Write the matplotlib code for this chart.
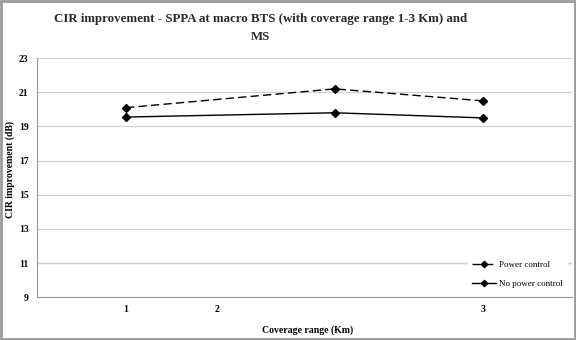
import matplotlib
matplotlib.use("Agg")
import matplotlib.pyplot as plt
from matplotlib.patches import Rectangle

plt.rcParams['font.family'] = ['Liberation Serif', 'DejaVu Serif']

# coverage positions as they sit on the chart
x_vals = [1, 2.17, 3]
tick_pos = [1, 1.51, 3]
tick_labels = ["1", "2", "3"]
power_control = [20.1, 21.2, 20.5]
no_power_control = [19.55, 19.8, 19.5]

fig = plt.figure(figsize=(5.76, 3.4), dpi=100)
ax = fig.add_axes([0.064, 0.126, 0.929, 0.703])

ax.plot(x_vals, power_control, color='black', lw=1.0, ls=(0, (6, 3)),
        marker='D', ms=4, label='Power control')
ax.plot(x_vals, no_power_control, color='black', lw=1.0,
        marker='D', ms=4, label='No power control')

ax.set_xlim(0.5, 3.5)
ax.set_ylim(9, 23)
ax.set_yticks(range(9, 24, 2))
ax.set_xticks(tick_pos)
ax.set_xticklabels(tick_labels)
ax.tick_params(length=0, labelsize=7, pad=6)
for lab in ax.get_xticklabels() + ax.get_yticklabels():
    lab.set_fontweight('bold')

ax.grid(axis='y', color='#d0d0d0', lw=0.8)
ax.set_axisbelow(True)
for s in ['top', 'right']:
    ax.spines[s].set_visible(False)
ax.spines['left'].set_color('#999999')
ax.spines['bottom'].set_color('#999999')
ax.axhline(11, color='#8a9a90', lw=0.9, zorder=0.5)

ax.set_xlabel('Coverage range (Km)', fontsize=7, fontweight='bold')
ax.xaxis.set_label_coords(0.505, -0.12)
ax.set_ylabel('CIR improvement (dB)', fontsize=7, fontweight='bold')
ax.yaxis.set_label_coords(-0.04, 0.535)

fig.text(0.452, 0.917, 'CIR improvement - SPPA at macro BTS (with coverage range 1-3 Km) and\nMS',
         ha='center', va='center', fontsize=9.3, fontweight='bold', color='#2a2a2a',
         linespacing=1.7)

leg = ax.legend(loc='lower right', bbox_to_anchor=(1.0, 0.0), frameon=True,
                fontsize=6.5, handlelength=2.6, labelspacing=1.2,
                borderaxespad=0.6, markerscale=0.8, handletextpad=0.4)
leg.get_frame().set_edgecolor('white')
leg.get_frame().set_facecolor('white')
leg.get_frame().set_alpha(1)

fig.patches.append(Rectangle((0.002, 0.003), 0.996, 0.994, transform=fig.transFigure,
                             fill=False, ec='#9a9a9a', lw=2))

fig.savefig('out.png', dpi=100)
